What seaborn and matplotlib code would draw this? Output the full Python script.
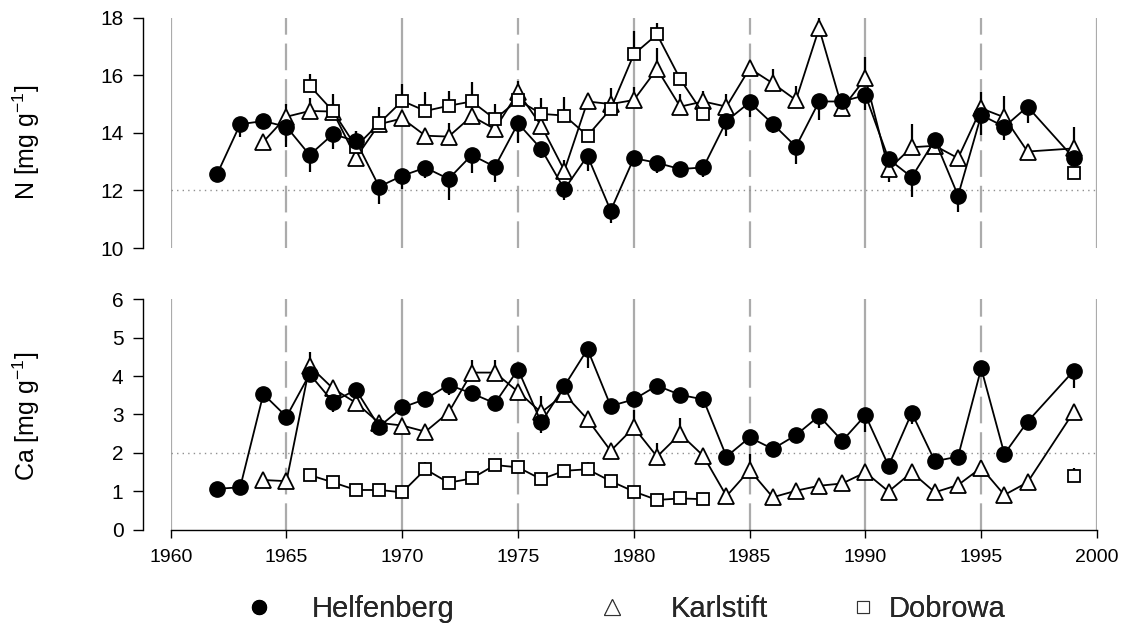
import numpy as np
import pandas as pd
import matplotlib
matplotlib.use("Agg")
import matplotlib.pyplot as plt
from matplotlib.lines import Line2D
import seaborn as sns

# ---------------- data ----------------
years_H = list(range(1962, 1998)) + [1999]
years_K = list(range(1964, 1998)) + [1999]
years_D = list(range(1966, 1984)) + [1999]

H_N = [12.56, 14.30, 14.41, 14.21, 13.23, 13.95, 13.72, 12.13, 12.51, 12.79, 12.40, 13.23,
       12.82, 14.33, 13.44, 12.04, 13.20, 11.30, 13.12, 12.96, 12.74, 12.80, 14.41, 15.06,
       14.31, 13.52, 15.09, 15.09, 15.31, 13.09, 12.46, 13.75, 11.82, 14.62, 14.21, 14.91, 13.12]
H_N_err = [-0.25, -0.43, -0.2, -0.7, -0.58, -0.5, 0.35, -0.6, -0.45, -0.37, -0.73, -0.64,
           -0.52, -0.69, -0.3, -0.37, -0.54, -0.44, -0.2, -0.37, -0.27, -0.32, -0.51, -0.5,
           -0.32, -0.61, -0.64, -0.2, -0.52, -0.2, -0.69, -0.4, -0.58, -0.69, -0.46, -0.58, -0.2]

K_N = [13.69, 14.56, 14.76, 14.74, 13.14, 14.30, 14.50, 13.90, 13.87, 14.58, 14.13, 15.41,
       14.25, 12.69, 15.09, 15.00, 15.14, 16.22, 14.91, 15.09, 14.91, 16.24, 15.72, 15.14,
       17.63, 14.85, 15.90, 12.74, 13.50, 13.55, 13.12, 14.85, 14.54, 13.35, 13.46]
K_N_err = [0.1, 0.43, 0.46, 0.0, 0.0, 0.0, 0.0, 0.1, 0.46, 0.2, 0.0, 0.4,
           0.25, 0.35, 0.0, 0.0, 0.46, 0.72, 0.43, 0.37, 0.43, 0.1, 0.5, 0.5,
           0.37, 0.0, 0.75, -0.44, 0.81, 0.1, 0.1, 0.56, 0.75, 0.1, 0.75]

D_N = [15.64, 14.76, 13.52, 14.33, 15.11, 14.76, 14.94, 15.09, 14.48, 15.14, 14.66, 14.60,
       13.90, 14.83, 16.73, 17.42, 15.87, 14.66, 12.60]
D_N_err = [0.39, 0.58, 0.54, 0.58, 0.58, 0.65, 0.51, 0.67, 0.51, 0.1, 0.54, 0.63,
           0.1, 0.72, 0.81, 0.38, 0.0, 0.0, 0.0]

H_Ca = [1.06, 1.10, 3.53, 2.94, 4.05, 3.33, 3.64, 2.68, 3.18, 3.40, 3.77, 3.55,
        3.29, 4.17, 2.79, 3.74, 4.70, 3.22, 3.39, 3.75, 3.51, 3.39, 1.90, 2.40,
        2.10, 2.46, 2.96, 2.31, 2.98, 1.66, 3.04, 1.78, 1.90, 4.20, 1.97, 2.81, 4.14]
H_Ca_err = [0.0, 0.0, 0.0, 0.0, -0.15, -0.26, -0.1, -0.15, -0.1, -0.1, -0.26, -0.1,
            -0.1, -0.1, -0.27, -0.1, -0.48, -0.1, -0.1, -0.1, -0.15, -0.23, -0.1, -0.15,
            -0.1, -0.1, -0.32, -0.15, -0.43, -0.1, -0.28, -0.1, -0.2, 0.0, -0.2, 0.0, -0.46]

K_Ca = [1.29, 1.26, 4.26, 3.68, 3.30, 2.78, 2.71, 2.55, 3.05, 4.09, 4.09, 3.59,
        3.05, 3.53, 2.87, 2.05, 2.66, 1.90, 2.49, 1.92, 0.87, 1.55, 0.84, 1.01,
        1.14, 1.20, 1.49, 0.99, 1.49, 0.97, 1.16, 1.61, 0.90, 1.23, 3.07]
K_Ca_err = [0.0, 0.0, 0.37, 0.1, 0.0, 0.0, 0.0, 0.1, 0.0, 0.33, 0.33, 0.0,
            0.42, 0.1, 0.0, 0.0, 0.45, 0.35, 0.41, 0.1, 0.0, 0.43, 0.0, 0.0,
            0.0, 0.0, 0.0, 0.0, 0.0, 0.0, 0.0, 0.0, 0.0, 0.0, 0.0]

D_Ca = [1.42, 1.23, 1.03, 1.03, 0.97, 1.57, 1.22, 1.33, 1.68, 1.62, 1.31, 1.53,
        1.57, 1.26, 0.99, 0.77, 0.81, 0.79, 1.39]
D_Ca_err = [0.0, 0.0, 0.0, 0.0, 0.0, 0.2, 0.0, 0.0, 0.1, 0.0, 0.0, 0.0,
            0.2, 0.0, 0.0, 0.0, 0.0, 0.0, 0.2]

sites = ["Helfenberg", "Karlstift", "Dobrowa"]
x_ticks = [1960, 1965, 1970, 1975, 1980, 1985, 1990, 1995, 2000]
N_ticks = [10, 12, 14, 16, 18]
Ca_ticks = [0, 1, 2, 3, 4, 5, 6]


def frame(site, years, n, n_err, ca, ca_err):
    df = pd.DataFrame({"year": years, "N": n, "N_err": n_err, "Ca": ca, "Ca_err": ca_err})
    df["site"] = site
    # segment id: break line where there is a gap of more than 2 years
    gaps = np.r_[0, np.diff(df["year"].values) > 2]
    df["seg"] = np.cumsum(gaps)
    return df


data = pd.concat([
    frame("Helfenberg", years_H, H_N, H_N_err, H_Ca, H_Ca_err),
    frame("Karlstift", years_K, K_N, K_N_err, K_Ca, K_Ca_err),
    frame("Dobrowa", years_D, D_N, D_N_err, D_Ca, D_Ca_err),
], ignore_index=True)

# ---------------- style ----------------
sns.set_theme(style="white")
plt.rcParams["font.family"] = ["Liberation Sans", "DejaVu Sans"]
plt.rcParams["mathtext.fontset"] = "custom"
plt.rcParams["mathtext.rm"] = "Liberation Sans"

W, H = 1131, 626
fig = plt.figure(figsize=(W / 100, H / 100), dpi=100)
fig.patch.set_facecolor("white")

ax_left = 170.7 / W
ax_w = (1097 - 170.7) / W
ax1 = fig.add_axes([ax_left, 1 - 248 / H, ax_w, 230.3 / H])
ax2 = fig.add_axes([ax_left, 1 - 529.5 / H, ax_w, 230.2 / H])

styles = {
    "Helfenberg": dict(marker="o", markersize=11, markerfacecolor="black",
                       markeredgecolor="black", markeredgewidth=1.0, zorder=5),
    "Karlstift": dict(marker="^", markersize=11, markerfacecolor="white",
                      markeredgecolor="black", markeredgewidth=1.3, zorder=3),
    "Dobrowa": dict(marker="s", markersize=8.8, markerfacecolor="white",
                    markeredgecolor="black", markeredgewidth=1.3, zorder=4),
}

for ax, var, ylim, yticks, ref in [(ax1, "N", (10, 18), N_ticks, 12),
                                   (ax2, "Ca", (0, 6), Ca_ticks, 2)]:
    ax.set_facecolor("white")
    # vertical reference lines
    for xv in x_ticks:
        if xv % 10 == 0:
            ax.axvline(xv, color="#ababab", lw=1.6, zorder=0)
        else:
            ax.axvline(xv, color="#ababab", lw=1.6, ls=(0, (12, 4)), zorder=0)
    ax.axhline(ref, color="#909090", lw=1.0, ls=(0, (1, 3)), zorder=0)

    for site in sites:
        sub = data[data["site"] == site]
        err = sub[var + "_err"].values
        lower = np.where(err < 0, -err, 0.0)
        upper = np.where(err > 0, err, 0.0)
        ax.errorbar(sub["year"], sub[var], yerr=[lower, upper], fmt="none",
                    ecolor="black", elinewidth=1.6, capsize=0, zorder=2)
        sns.lineplot(data=sub, x="year", y=var, units="seg", estimator=None,
                     color="black", linewidth=1.3, ax=ax, legend=False,
                     **styles[site])

    ax.set_xlim(1960, 2000)
    ax.set_ylim(*ylim)
    ax.set_yticks(yticks)
    ax.set_xlabel("")
    sns.despine(ax=ax)
    ax.spines["left"].set_position(("outward", 20))
    ax.spines["left"].set_color("black")
    ax.spines["left"].set_linewidth(1.0)
    ax.tick_params(axis="y", which="both", left=True, direction="out", length=7,
                   width=1.0, color="black", labelsize=15, pad=7, labelcolor="black")

ax1.spines["bottom"].set_visible(False)
ax1.set_xticks([])
ax2.set_xticks(x_ticks)
ax2.spines["bottom"].set_color("black")
ax2.spines["bottom"].set_linewidth(1.0)
ax2.tick_params(axis="x", bottom=True, direction="out", length=6, width=1.0,
                color="black", labelsize=14, pad=8, labelcolor="black")

ax1.set_ylabel(r"N [mg g$^{\mathregular{-1}}$]", fontsize=18, color="black")
ax2.set_ylabel(r"Ca [mg g$^{\mathregular{-1}}$]", fontsize=18, color="black")
ax1.yaxis.set_label_coords(-0.139, 0.46)
ax2.yaxis.set_label_coords(-0.139, 0.49)

# ---------------- legend ----------------
fs_pt = 21
fs_px = fs_pt * 100 / 72.0
leg_items = [
    ("Helfenberg", Line2D([], [], ls="none", marker="o", markersize=10, markerfacecolor="black",
                          markeredgecolor="black"), 259, 312),
    ("Karlstift", Line2D([], [], ls="none", marker="^", markersize=11, markerfacecolor="white",
                         markeredgecolor="#333333", markeredgewidth=0.8), 612, 671),
    ("Dobrowa", Line2D([], [], ls="none", marker="s", markersize=9, markerfacecolor="white",
                       markeredgecolor="#333333", markeredgewidth=0.8), 863, 889),
]
for label, handle, mx, tx in leg_items:
    hl = 1.0
    x0 = mx - hl * fs_px / 2
    pad = (tx - (x0 + hl * fs_px)) / fs_px
    leg = fig.legend([handle], [label], loc="center left",
                     bbox_to_anchor=(x0 / W, 1 - 609 / H), frameon=False,
                     handlelength=hl, handletextpad=pad, borderpad=0,
                     borderaxespad=0, fontsize=fs_pt)
    fig.add_artist(leg)

fig.savefig("out.png", dpi=100, facecolor="white")
